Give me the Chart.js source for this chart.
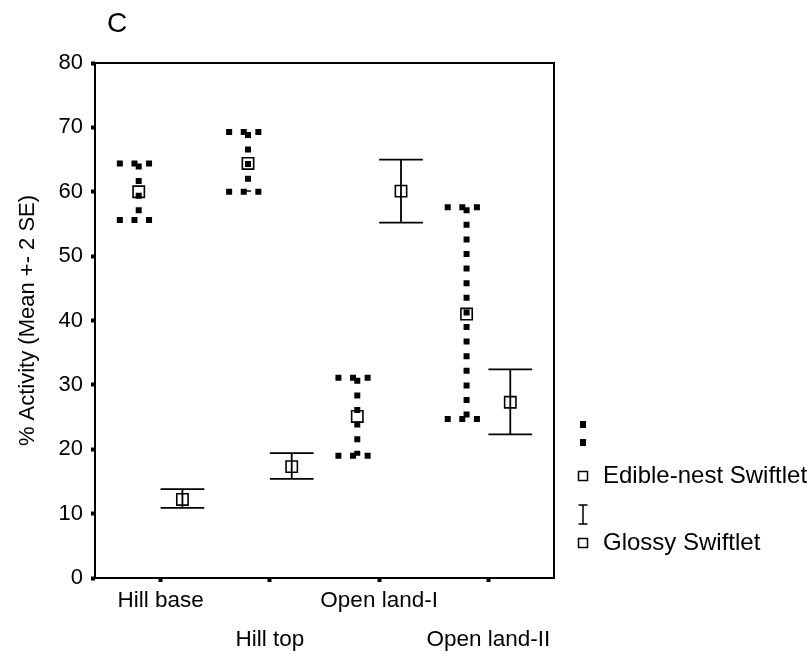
<!DOCTYPE html>
<html>
<head>
<meta charset="utf-8">
<title>Activity by habitat</title>
<script src="https://cdn.jsdelivr.net/npm/chart.js@4/dist/chart.umd.min.js"></script>
<style>
  html, body { margin: 0; padding: 0; background: #fff; }
  canvas { display: block; }
</style>
</head>
<body>
<canvas id="activity-chart" width="807" height="654"></canvas>
<script>
// habitats along the x axis
const categories = ['Hill base', 'Hill top', 'Open land-I', 'Open land-II'];

// Edible-nest Swiftlet: mean and mean +- 2 SE
const edibleMean = [60.0, 64.4, 25.1, 41.0];
const edibleLow  = [55.6, 60.0, 19.0, 24.7];
const edibleHigh = [64.4, 69.3, 31.1, 57.6];

// Glossy Swiftlet: mean and mean +- 2 SE
const glossyMean = [12.2, 17.3, 60.1, 27.3];
const glossyLow  = [10.9, 15.4, 55.2, 22.3];
const glossyHigh = [13.8, 19.4, 65.0, 32.4];

const yTicks = [0, 10, 20, 30, 40, 50, 60, 70, 80];

const FONT = '"Liberation Sans", Arial, Helvetica, sans-serif';
const SHIFT = 0.2;      // side-by-side offset inside a habitat
const CAP = 0.2;        // half width of an error bar cap (x units)

function toPoints(means, shift) {
    return means.map((m, i) => ({ x: i + 1 + shift, y: m }));
}

// dotted or solid error bars, drawn before the mean markers
const errorBarPlugin = {
    id: 'errorBars',
    beforeDatasetsDraw(chart) {
        const { ctx, scales: { x, y } } = chart;
        chart.data.datasets.forEach(ds => {
            ctx.save();
            ctx.strokeStyle = '#000';
            if (ds.dotted) {
                ctx.lineWidth = 6;
                ctx.setLineDash([6, 8.6]);
                ctx.lineCap = 'butt';
            } else {
                ctx.lineWidth = 1.8;
                ctx.setLineDash([]);
            }
            ds.data.forEach((p, i) => {
                const px = x.getPixelForValue(p.x);
                const half = x.getPixelForValue(p.x + CAP) - px;
                const top = y.getPixelForValue(ds.highs[i]);
                const bot = y.getPixelForValue(ds.lows[i]);
                ctx.beginPath();
                ctx.moveTo(px, top);
                ctx.lineTo(px, bot);
                ctx.moveTo(px - half, top);
                ctx.lineTo(px + half, top);
                ctx.moveTo(px - half, bot);
                ctx.lineTo(px + half, bot);
                ctx.stroke();
            });
            ctx.restore();
        });
    }
};

// panel letter, frame and the legend on the right
const decorPlugin = {
    id: 'decor',
    afterDraw(chart) {
        const { ctx, chartArea: a } = chart;
        ctx.save();
        ctx.strokeStyle = '#000';
        ctx.lineWidth = 2;
        ctx.strokeRect(a.left, a.top, a.right - a.left, a.bottom - a.top);

        ctx.fillStyle = '#000';
        ctx.font = '28px ' + FONT;
        ctx.textAlign = 'center';
        ctx.textBaseline = 'middle';
        ctx.fillText('C', a.left + 22, 24);

        const lx = a.right + 29;
        // dotted bar symbol
        ctx.lineWidth = 6;
        ctx.setLineDash([7, 11]);
        ctx.beginPath();
        ctx.moveTo(lx, 421);
        ctx.lineTo(lx, 449);
        ctx.stroke();
        ctx.setLineDash([]);

        // solid bar symbol
        ctx.lineWidth = 1.5;
        ctx.beginPath();
        ctx.moveTo(lx, 505);
        ctx.lineTo(lx, 524);
        ctx.moveTo(lx - 4.5, 505);
        ctx.lineTo(lx + 4.5, 505);
        ctx.moveTo(lx - 4.5, 524);
        ctx.lineTo(lx + 4.5, 524);
        ctx.stroke();

        // mean markers with the series names
        ctx.font = '24px ' + FONT;
        ctx.textAlign = 'left';
        [[chart.data.datasets[0].label, 476], [chart.data.datasets[1].label, 543]].forEach(([text, ly]) => {
            ctx.strokeRect(lx - 4.5, ly - 4.5, 9, 9);
            ctx.fillText(text, lx + 20, ly);
        });
        ctx.restore();
    }
};

new Chart(document.getElementById('activity-chart'), {
    type: 'scatter',
    data: {
        datasets: [
            {
                label: 'Edible-nest Swiftlet',
                data: toPoints(edibleMean, -SHIFT),
                lows: edibleLow,
                highs: edibleHigh,
                dotted: true
            },
            {
                label: 'Glossy Swiftlet',
                data: toPoints(glossyMean, SHIFT),
                lows: glossyLow,
                highs: glossyHigh,
                dotted: false
            }
        ].map(ds => Object.assign(ds, {
            showLine: false,
            pointStyle: 'rect',
            pointRadius: 8,
            pointHoverRadius: 8,
            borderWidth: 1.6,
            borderColor: '#000',
            backgroundColor: 'rgba(0,0,0,0)'
        }))
    },
    options: {
        responsive: false,
        animation: false,
        devicePixelRatio: 1,
        events: [],
        layout: { padding: { top: 63, right: 253, left: 0, bottom: 0 } },
        plugins: {
            legend: { display: false },
            tooltip: { enabled: false }
        },
        scales: {
            x: {
                type: 'linear',
                min: 0.4,
                max: 4.6,
                afterFit: scale => { scale.height = 76; },
                afterBuildTicks: scale => {
                    scale.ticks = categories.map((_, i) => ({ value: i + 1 }));
                },
                border: { display: false },
                grid: {
                    drawOnChartArea: false,
                    tickLength: 4,
                    tickWidth: 4,
                    tickColor: '#000'
                },
                ticks: {
                    autoSkip: false,
                    maxRotation: 0,
                    padding: 0,
                    color: '#000',
                    font: { family: FONT, size: 22.5, lineHeight: 1.7 },
                    callback: value => {
                        const i = Math.round(value) - 1;
                        return i % 2 === 0 ? categories[i] : ['', categories[i]];
                    }
                }
            },
            y: {
                min: 0,
                max: 80,
                afterFit: scale => { scale.width = 95; },
                afterBuildTicks: scale => {
                    scale.ticks = yTicks.map(v => ({ value: v }));
                },
                border: { display: false },
                grid: {
                    drawOnChartArea: false,
                    tickLength: 4,
                    tickWidth: 4,
                    tickColor: '#000'
                },
                title: {
                    display: true,
                    text: '% Activity (Mean +- 2 SE)',
                    color: '#000',
                    font: { family: FONT, size: 22 },
                    padding: { top: 15, bottom: 0 }
                },
                ticks: {
                    padding: 8,
                    color: '#000',
                    font: { family: FONT, size: 22 }
                }
            }
        }
    },
    plugins: [errorBarPlugin, decorPlugin]
});
</script>
</body>
</html>
